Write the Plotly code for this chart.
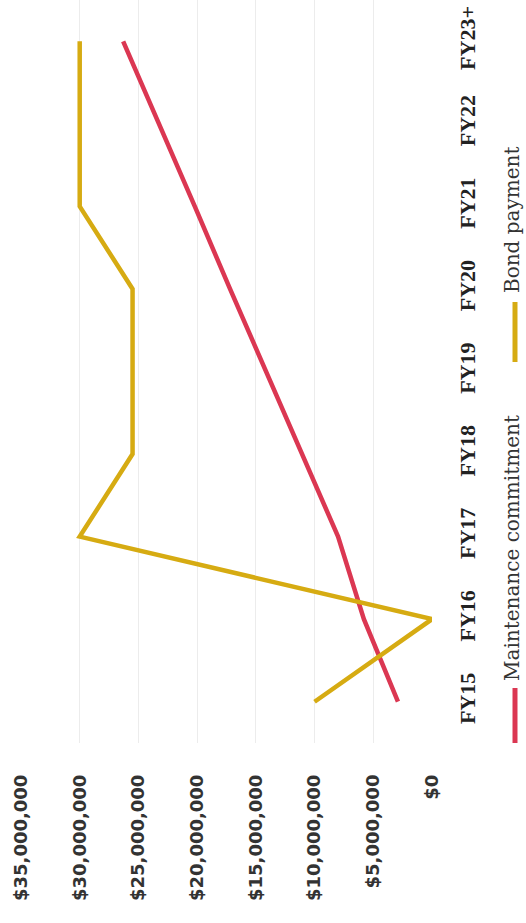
import plotly.graph_objects as go

# ---- data ----
years = ["FY15", "FY16", "FY17", "FY18", "FY19", "FY20", "FY21", "FY22", "FY23+"]
maintenance = [2.9e6, 5.8e6, 8.0e6, 11.1e6, 14.1e6, 17.2e6, 20.2e6, 23.3e6, 26.3e6]
bond = [10.0e6, 0.0, 30.0e6, 25.5e6, 25.5e6, 25.5e6, 30.0e6, 30.0e6, 30.0e6]
value_ticks = [0, 5e6, 10e6, 15e6, 20e6, 25e6, 30e6, 35e6]
value_tick_labels = ["$0", "$5,000,000", "$10,000,000", "$15,000,000",
                     "$20,000,000", "$25,000,000", "$30,000,000", "$35,000,000"]
series_names = ["Maintenance commitment", "Bond payment"]

RED = "#db3752"
GOLD = "#d6ab12"

W, H = 526, 923
ML, MR, MT, MB = 21, 94, 0, 180
PW = W - ML - MR
PH = H - MT - MB


def px_x(px):
    return (px - ML) / PW


def px_y(py):
    return (H - MB - py) / PH


fig = go.Figure()
fig.add_trace(go.Scatter(x=maintenance, y=years, mode="lines", name=series_names[0],
                         line=dict(color=RED, width=4.5)))
fig.add_trace(go.Scatter(x=bond, y=years, mode="lines", name=series_names[1],
                         line=dict(color=GOLD, width=4.5)))

fig.update_layout(
    width=W, height=H,
    margin=dict(l=ML, r=MR, t=MT, b=MB, pad=0),
    paper_bgcolor="white", plot_bgcolor="white",
    showlegend=False,
    xaxis=dict(
        range=[35e6, 0],
        tickvals=value_ticks, ticktext=value_tick_labels,
        tickangle=-90,
        showgrid=True, gridcolor="#ececec", gridwidth=1,
        zeroline=False, showline=False, ticks="",
        ticklabelstandoff=27,
        tickfont=dict(family="DejaVu Sans", size=18, color="#333333", weight="bold"),
    ),
    yaxis=dict(
        type="category", categoryorder="array", categoryarray=years,
        range=[-0.5, 8.5],
        side="right",
        tickangle=-90,
        showgrid=False, zeroline=False, showline=False, ticks="",
        ticklabelstandoff=20,
        tickfont=dict(family="Liberation Serif", size=22, color="#222222", weight="bold"),
    ),
)

# custom rotated legend
legend_items = [
    (series_names[0], RED, 548, 688, 743),
    (series_names[1], GOLD, 220, 302, 362),
]
for name, color, ty, y0, y1 in legend_items:
    fig.add_annotation(text=name, xref="paper", yref="paper",
                       x=px_x(512), y=px_y(ty), textangle=-90,
                       xanchor="center", yanchor="middle", showarrow=False,
                       font=dict(family="DejaVu Serif", size=20, color="#333333"))
    fig.add_shape(type="line", xref="paper", yref="paper",
                  x0=px_x(515), x1=px_x(515), y0=px_y(y0), y1=px_y(y1),
                  line=dict(color=color, width=5))

fig.write_html("out.html")
